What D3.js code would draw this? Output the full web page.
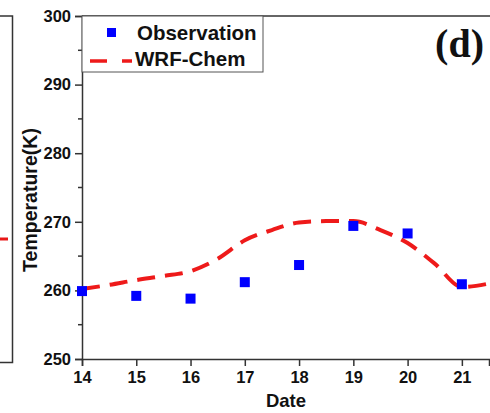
<!DOCTYPE html>
<html>
<head>
<meta charset="utf-8">
<script src="https://d3js.org/d3.v7.min.js"></script>
<style>
  body { margin: 0; background: #fff; }
  svg { display: block; }
  text { font-family: Arial, "Liberation Sans", sans-serif; font-weight: bold; fill: #111; }
</style>
</head>
<body>
<svg id="chart" width="490" height="413"></svg>
<script>
// observed daily temperature (K)
var obsDates = [14, 15, 16, 17, 18, 19, 20, 21]
var obsTemps = [259.9, 259.2, 258.8, 261.2, 263.7, 269.4, 268.3, 260.9]

// WRF-Chem simulated temperature (K)
var wrfDates = [14, 14.5, 15, 15.5, 16, 16.5, 17, 17.5, 18, 18.5, 19, 19.5, 20, 20.5, 21, 21.5]
var wrfTemps = [260.2, 260.8, 261.5, 262.1, 262.8, 264.6, 267.3, 268.8, 269.9, 270.1, 270.1, 268.8, 266.9, 263.9, 260.5, 261.0]

var xTicks = [14, 15, 16, 17, 18, 19, 20, 21]
var yTicks = [250, 260, 270, 280, 290, 300]
var yMinor = [255, 265, 275, 285, 295]

var svg = d3.select("#chart")

var x = d3.scaleLinear().domain([14, 21.5]).range([82, 489])
var y = d3.scaleLinear().domain([250, 300]).range([359, 16])

// bits of the neighbouring panel on the left
svg.append("path")
    .attr("d", "M0,16 L12.5,16 L12.5,362.5 L0,362.5")
    .style("fill", "none")
    .style("stroke", "#333")
    .style("stroke-width", 1.5)
svg.append("line")
    .attr("x1", 0).attr("x2", 8)
    .attr("y1", 239).attr("y2", 239)
    .style("stroke", "#e81818")
    .style("stroke-width", 3)

// frame top
svg.append("line")
    .attr("x1", 82).attr("x2", 490)
    .attr("y1", 16).attr("y2", 16)
    .style("stroke", "#333")
    .style("stroke-width", 1.5)

// axes
var yAxis = d3.axisLeft(y).tickValues(yTicks).tickSize(7).tickPadding(4)
var gy = svg.append("g")
    .attr("transform", "translate(82,0)")
    .call(yAxis)
gy.selectAll(".minor")
    .data(yMinor).enter()
    .append("line")
    .attr("class", "minor")
    .attr("x1", -4).attr("x2", 0)
    .attr("y1", function(d) { return y(d) }).attr("y2", function(d) { return y(d) })
    .style("stroke", "#333")
    .style("stroke-width", 1.5)

var xAxis = d3.axisBottom(x).tickValues(xTicks).tickSize(7).tickPadding(5)
var gx = svg.append("g")
    .attr("transform", "translate(0,359)")
    .call(xAxis)

svg.selectAll(".domain, .tick line")
    .style("stroke", "#333")
    .style("stroke-width", 1.5)
svg.selectAll(".tick text")
    .style("font-size", "16.5px")
    .style("font-weight", "bold")
    .style("font-family", "Arial, 'Liberation Sans', sans-serif")
    .style("fill", "#111")

svg.append("text")
    .attr("x", 286)
    .attr("y", 407)
    .attr("text-anchor", "middle")
    .style("font-size", "18.5px")
    .text("Date")

svg.append("text")
    .attr("transform", "translate(37,200) rotate(-90)")
    .attr("text-anchor", "middle")
    .style("font-size", "19.5px")
    .text("Temperature(K)")

// WRF-Chem line
var line = d3.line()
    .x(function(d, i) { return x(wrfDates[i]) })
    .y(function(d) { return y(d) })
    .curve(d3.curveMonotoneX)

svg.append("path")
    .datum(wrfTemps)
    .attr("d", line)
    .style("fill", "none")
    .style("stroke", "#ee1a1a")
    .style("stroke-width", 4)
    .style("stroke-dasharray", "18,10")

// observations
svg.selectAll("rect.obs")
    .data(obsTemps)
    .enter()
    .append("rect")
    .attr("class", "obs")
    .attr("x", function(d, i) { return x(obsDates[i]) - 5 })
    .attr("y", function(d) { return y(d) - 5 })
    .attr("width", 10)
    .attr("height", 10)
    .style("fill", "#0000ff")

// legend
var lg = svg.append("g")
lg.append("rect")
    .attr("x", 82).attr("y", 16)
    .attr("width", 181).attr("height", 56)
    .style("fill", "#fff")
    .style("stroke", "#555")
    .style("stroke-width", 1)
lg.append("rect")
    .attr("x", 107).attr("y", 28)
    .attr("width", 9).attr("height", 9)
    .style("fill", "#0000ff")
lg.append("text")
    .attr("x", 137).attr("y", 39.5)
    .style("font-size", "20.5px")
    .text("Observation")
lg.append("line")
    .attr("x1", 90).attr("x2", 132)
    .attr("y1", 61).attr("y2", 61)
    .style("stroke", "#ee1a1a")
    .style("stroke-width", 3.5)
    .style("stroke-dasharray", "17,15")
lg.append("text")
    .attr("x", 135).attr("y", 65.5)
    .style("font-size", "20.5px")
    .text("WRF-Chem")

svg.append("text")
    .attr("x", 484)
    .attr("y", 57)
    .attr("text-anchor", "end")
    .style("font-family", "'Times New Roman', 'Liberation Serif', serif")
    .style("font-size", "40px")
    .text("(d)")
</script>
</body>
</html>
